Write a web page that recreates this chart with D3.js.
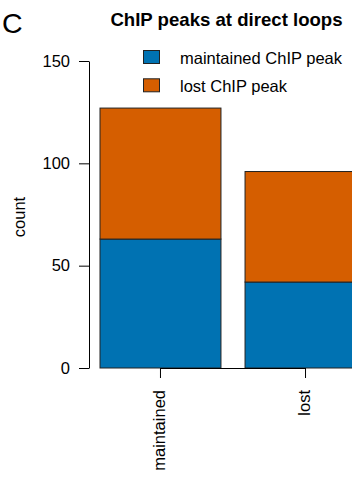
<!DOCTYPE html>
<html>
<head>
<meta charset="utf-8">
<script src="https://cdn.jsdelivr.net/npm/d3@7"></script>
<style>
  body { margin: 0; background: #fff; }
  svg { display: block; font-family: "Liberation Sans", Arial, Helvetica, sans-serif; }
</style>
</head>
<body>
<svg width="352" height="477"></svg>
<script>
var categories = ['maintained', 'lost'];
var maintainedPeak = [63, 42];
var lostPeak = [64, 54];
var seriesNames = ['maintained ChIP peak', 'lost ChIP peak'];
var seriesColors = ['#0072B2', '#D55E00'];
var yTicks = [0, 50, 100, 150];

function drawChart() {
    var fs = 16.5;
    var svg = d3.select('svg');

    var x = d3.scaleBand()
        .domain(categories)
        .range([100, 366])
        .paddingInner(0.166)
        .paddingOuter(0);

    var y = d3.scaleLinear()
        .domain([0, 150])
        .range([368, 61]);

    // stacked rows
    var rows = categories.map((c, i) => ({ cat: c, maintained: maintainedPeak[i], lost: lostPeak[i] }));
    var stack = d3.stack().keys(['maintained', 'lost'])(rows);

    svg.append('g')
        .selectAll('g')
        .data(stack)
        .enter()
        .append('g')
        .attr('fill', (d, i) => seriesColors[i])
        .selectAll('rect')
        .data(d => d)
        .enter()
        .append('rect')
        .attr('x', d => x(d.data.cat))
        .attr('y', d => y(d[1]))
        .attr('width', x.bandwidth())
        .attr('height', d => y(d[0]) - y(d[1]))
        .attr('stroke', '#222')
        .attr('stroke-width', 1);

    // y axis
    var yAxis = d3.axisLeft(y)
        .tickValues(yTicks)
        .tickSize(10)
        .tickSizeOuter(0)
        .tickPadding(9);

    var gy = svg.append('g')
        .attr('transform', 'translate(89,0)')
        .call(yAxis);
    gy.attr('font-family', null).attr('font-size', null);
    gy.selectAll('text').attr('font-size', fs).attr('fill', '#000');
    gy.selectAll('line, path').attr('stroke', '#000');

    // x axis
    var xAxis = d3.axisBottom(x)
        .tickSize(10)
        .tickSizeOuter(0);

    var gx = svg.append('g')
        .attr('transform', 'translate(0,368)')
        .call(xAxis);
    gx.attr('font-family', null).attr('font-size', null);
    gx.select('.domain').remove();
    gx.selectAll('line').attr('stroke', '#000');
    gx.selectAll('text')
        .attr('font-size', fs)
        .attr('fill', '#000')
        .attr('transform', 'rotate(-90)')
        .attr('x', -22)
        .attr('y', 0)
        .attr('dy', '0.25em')
        .style('text-anchor', 'end');

    var x0 = x(categories[0]) + x.bandwidth() / 2;
    var x1 = x(categories[categories.length - 1]) + x.bandwidth() / 2;
    svg.append('line')
        .attr('x1', x0).attr('x2', x1)
        .attr('y1', 368.5).attr('y2', 368.5)
        .attr('stroke', '#000');

    // y label
    svg.append('text')
        .attr('transform', 'translate(25,217) rotate(-90)')
        .attr('text-anchor', 'middle')
        .attr('font-size', fs)
        .text('count');

    // title
    svg.append('text')
        .attr('x', 226.5)
        .attr('y', 26)
        .attr('text-anchor', 'middle')
        .attr('font-size', 18.6)
        .attr('font-weight', 'bold')
        .text('ChIP peaks at direct loops');

    svg.append('text')
        .attr('x', 2)
        .attr('y', 33)
        .attr('font-size', 28.5)
        .text('C');

    // legend
    var legend = svg.append('g')
        .selectAll('g')
        .data(seriesNames)
        .enter()
        .append('g')
        .attr('transform', (d, i) => 'translate(143.5,' + (50.5 + i * 28.3) + ')');

    legend.append('rect')
        .attr('width', 16)
        .attr('height', 13)
        .attr('fill', (d, i) => seriesColors[i])
        .attr('stroke', '#222');

    legend.append('text')
        .attr('x', 36.5)
        .attr('y', 13)
        .attr('font-size', fs)
        .text(d => d);
}

drawChart();
</script>
</body>
</html>
